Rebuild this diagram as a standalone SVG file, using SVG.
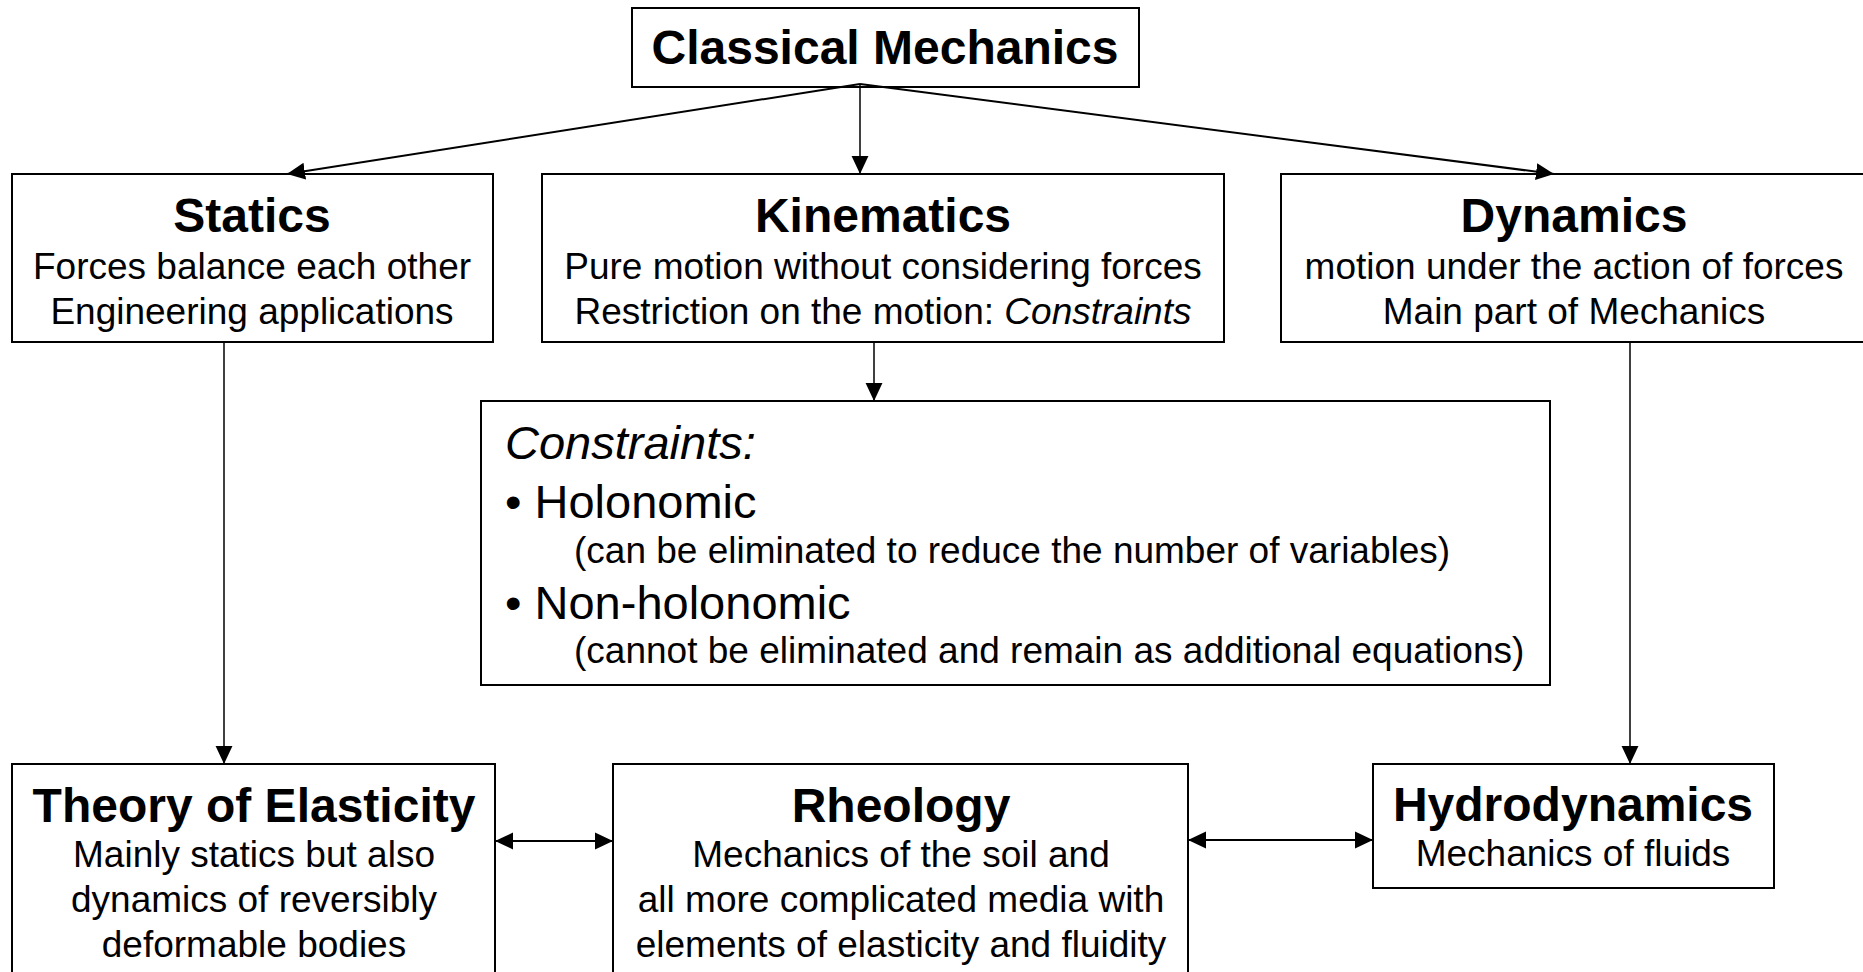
<svg xmlns="http://www.w3.org/2000/svg" width="1863" height="972" viewBox="0 0 1863 972">
<style>
.box{fill:#fff;stroke:#000;stroke-width:2}
.t{font-family:"Liberation Sans",Arial,sans-serif;font-weight:bold;font-size:48px;text-anchor:middle;fill:#000}
.b{font-family:"Liberation Sans",Arial,sans-serif;font-size:37px;text-anchor:middle;fill:#000}
.c{font-family:"Liberation Sans",Arial,sans-serif;font-size:47px;fill:#000}
.s{font-family:"Liberation Sans",Arial,sans-serif;font-size:37px;fill:#000}
.ln{stroke:#000;stroke-width:2;fill:none}
.lv{stroke:#000;stroke-width:1.5;fill:none}
</style>
<defs>
<marker id="ah" markerUnits="userSpaceOnUse" markerWidth="18" markerHeight="18" viewBox="0 0 16 16" refX="16" refY="8" orient="auto-start-reverse">
<path d="M0,0.5 L16,8 L0,15.5 Z" fill="#000"/>
</marker>
</defs>
<rect width="1863" height="972" fill="#fff"/>
<g id="classical">
<rect class="box" x="632" y="8" width="507" height="79"/>
<text class="t" x="885" y="64">Classical Mechanics</text>
</g>
<g id="statics">
<rect class="box" x="12" y="174" width="481" height="168"/>
<text class="t" x="252" y="232">Statics</text>
<text class="b" x="252" y="279">Forces balance each other</text>
<text class="b" x="252" y="324">Engineering applications</text>
</g>
<g id="kinematics">
<rect class="box" x="542" y="174" width="682" height="168"/>
<text class="t" x="883" y="232">Kinematics</text>
<text class="b" x="883" y="279">Pure motion without considering forces</text>
<text class="b" x="883" y="324">Restriction on the motion: <tspan font-style="italic">Constraints</tspan></text>
</g>
<g id="dynamics">
<rect class="box" x="1281" y="174" width="600" height="168"/>
<text class="t" x="1574" y="232">Dynamics</text>
<text class="b" x="1574" y="279">motion under the action of forces</text>
<text class="b" x="1574" y="324">Main part of Mechanics</text>
</g>
<g id="constraints">
<rect class="box" x="481" y="401" width="1069" height="284"/>
<text class="c" x="505" y="459" font-style="italic">Constraints:</text>
<text class="c" x="505" y="518">• Holonomic</text>
<text class="s" x="574" y="563">(can be eliminated to reduce the number of variables)</text>
<text class="c" x="505" y="619">• Non-holonomic</text>
<text class="s" x="574" y="663">(cannot be eliminated and remain as additional equations)</text>
</g>
<g id="elasticity">
<rect class="box" x="12" y="764" width="483" height="230"/>
<text class="t" x="254" y="822">Theory of Elasticity</text>
<text class="b" x="254" y="867">Mainly statics but also</text>
<text class="b" x="254" y="912">dynamics of reversibly</text>
<text class="b" x="254" y="957">deformable bodies</text>
</g>
<g id="rheology">
<rect class="box" x="613" y="764" width="575" height="230"/>
<text class="t" x="901" y="822">Rheology</text>
<text class="b" x="901" y="867">Mechanics of the soil and</text>
<text class="b" x="901" y="912">all more complicated media with</text>
<text class="b" x="901" y="957">elements of elasticity and fluidity</text>
</g>
<g id="hydrodynamics">
<rect class="box" x="1373" y="764" width="401" height="124"/>
<text class="t" x="1573" y="821">Hydrodynamics</text>
<text class="b" x="1573" y="866">Mechanics of fluids</text>
</g>
<g id="connectors">
<line class="ln" x1="860" y1="84" x2="287" y2="174" marker-end="url(#ah)"/>
<line class="lv" x1="860" y1="84" x2="860" y2="174" marker-end="url(#ah)"/>
<line class="ln" x1="860" y1="84" x2="1554" y2="174" marker-end="url(#ah)"/>
<line class="lv" x1="874" y1="342" x2="874" y2="401" marker-end="url(#ah)"/>
<line class="lv" x1="224" y1="342" x2="224" y2="764" marker-end="url(#ah)"/>
<line class="lv" x1="1630" y1="342" x2="1630" y2="764" marker-end="url(#ah)"/>
<line class="ln" x1="495" y1="841" x2="613" y2="841" marker-start="url(#ah)" marker-end="url(#ah)"/>
<line class="ln" x1="1188" y1="840" x2="1373" y2="840" marker-start="url(#ah)" marker-end="url(#ah)"/>
</g>
</svg>
